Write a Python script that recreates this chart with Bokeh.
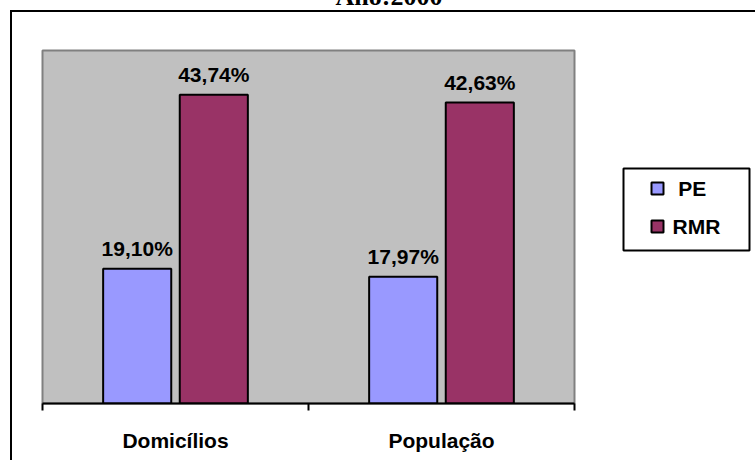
import numpy as np
from bokeh.plotting import figure
from bokeh.layouts import row
from bokeh.models import Range1d, LinearAxis, FixedTicker, ColumnDataSource
from bokeh.core.properties import value
from bokeh.embed import file_html
from bokeh.resources import INLINE

# ---- data ----
title_text = "Ano:2000"
categories = ["Domicílios", "População"]
series_names = ["PE", "RMR"]
pe_values = [19.10, 17.97]
rmr_values = [43.74, 42.63]
series_colors = ["#9999FF", "#993366"]

# ---- geometry (pixels) ----
W, H = 755, 460
TOP_CUT = 70                        # canvas rows hidden above the page top
FL, FR, FT, FB = 42, 574, 50, 403   # plot-area edges on the page
CHART_W = FR + 2                    # width of the chart canvas
LEG_L, LEG_T, LEG_R, LEG_B = 623, 168, 749, 250   # legend box on the page
LEG_FIRST, LEG_STEP = 20, 38        # first entry centre below box top, entry pitch
SWATCH_X, SWATCH = 657, 12
TEXT_X = 672
Y_MAX = 50
N = len(categories)
FONT = "Liberation Sans"

p = figure(width=CHART_W, height=H + TOP_CUT, output_backend="svg", toolbar_location=None,
           x_range=Range1d(0, N), y_range=Range1d(0, Y_MAX),
           x_axis_type=None, y_axis_type=None,
           min_border_left=FL, min_border_right=CHART_W - FR,
           min_border_top=FT + TOP_CUT, min_border_bottom=H - FB)
p.background_fill_color = "#C0C0C0"
p.border_fill_alpha = 0
p.outline_line_color = "#808080"
p.outline_line_width = 2

# title (mostly above the visible page)
p.title.text = title_text
p.title.align = "left"
p.title.offset = 388 - FL - 53
p.title.standoff = 79
p.title.vertical_align = "bottom"
p.title.text_font = "Liberation Serif"
p.title.text_font_style = "bold"
p.title.text_font_size = "26px"
p.title.text_color = "black"

centers = np.arange(N) + 0.5
offset, bar_w = 0.144, 0.256

def pct(v):
    return f"{v:.2f}%".replace(".", ",")

for vals, color, sign in [(pe_values, series_colors[0], -1), (rmr_values, series_colors[1], 1)]:
    src = ColumnDataSource(dict(x=centers + sign * offset, top=vals,
                                label=[pct(v) for v in vals]))
    p.vbar(x="x", top="top", bottom=0, width=bar_w, source=src,
           fill_color=color, line_color="black", line_width=2)
    p.text(x="x", y="top", text="label", source=src, text_align="center",
           text_baseline="alphabetic", y_offset=-20,
           text_font=value(FONT), text_font_style="bold", text_font_size="21px",
           text_color="black")

# category axis: labels under each group, ticks on group boundaries
ax = LinearAxis(ticker=FixedTicker(ticks=list(centers), minor_ticks=list(range(N + 1))),
                major_label_overrides={float(c): cat for c, cat in zip(centers, categories)})
ax.major_tick_in = 0
ax.major_tick_out = 0
ax.minor_tick_in = 0
ax.minor_tick_out = 7
ax.minor_tick_line_color = "black"
ax.minor_tick_line_width = 2
ax.axis_line_color = "black"
ax.axis_line_width = 2
ax.major_label_text_font = FONT
ax.major_label_text_font_style = "bold"
ax.major_label_text_font_size = "21px"
ax.major_label_text_color = "black"
ax.major_label_standoff = 18
p.add_layout(ax, "below")

# legend panel to the right of the plot area; its frame shares the plot
# area's vertical extent, so the ranges are given in page pixels
leg = figure(width=W - CHART_W, height=H + TOP_CUT, output_backend="svg",
             toolbar_location=None,
             x_range=Range1d(CHART_W, W), y_range=Range1d(FB, FT),
             x_axis_type=None, y_axis_type=None,
             min_border_left=0, min_border_right=0,
             min_border_top=FT + TOP_CUT, min_border_bottom=H - FB)
leg.background_fill_alpha = 0
leg.border_fill_alpha = 0
leg.outline_line_color = None

leg.quad(left=[LEG_L], right=[LEG_R], top=[LEG_T], bottom=[LEG_B],
         fill_color="white", line_color="black", line_width=2)
entry_y = [LEG_T + LEG_FIRST + i * LEG_STEP for i in range(len(series_names))]
leg_src = ColumnDataSource(dict(
    y=entry_y, color=series_colors,
    label=[n if len(n) > 2 else "\u00a0" + n for n in series_names]))
leg.rect(x=SWATCH_X, y="y", width=SWATCH, height=SWATCH, source=leg_src,
         fill_color="color", line_color="black", line_width=2)
leg.text(x=TEXT_X, y="y", text="label", source=leg_src, text_baseline="middle",
         text_align="left", text_font=value(FONT), text_font_style="bold",
         text_font_size="21px", text_color="black")

# chart frame: left and top rules drawn as inset shadows on the container
layout = row(p, leg, margin=(-TOP_CUT, 0, 0, 0),
             styles={"box-shadow": f"inset 10px {10 + TOP_CUT}px 0 0 white, "
                                   f"inset 12px {12 + TOP_CUT}px 0 0 black"})

open("out.html", "w").write(file_html(layout, INLINE))
